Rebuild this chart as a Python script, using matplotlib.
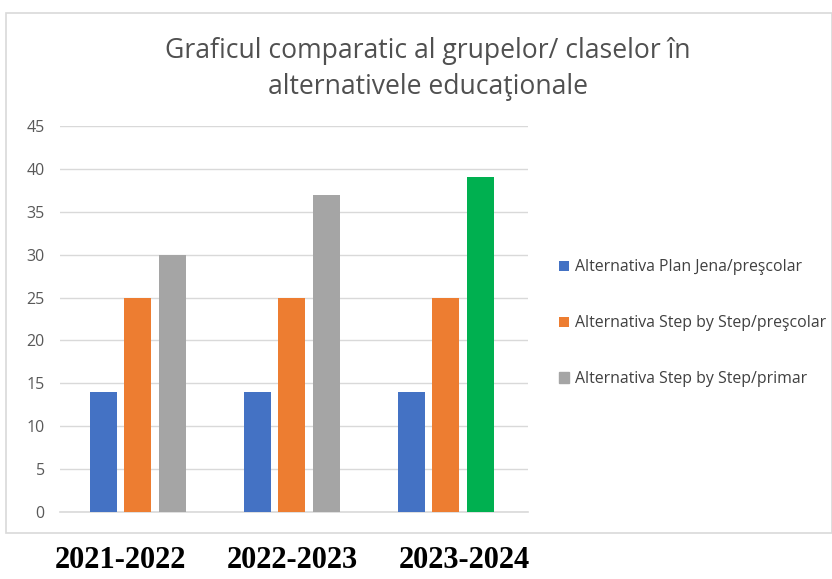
import matplotlib.pyplot as plt
import matplotlib
import numpy as np
from matplotlib.patches import Rectangle

matplotlib.rcParams.update({'font.family': ['Open Sans', 'DejaVu Sans'], 'font.size': 10})

years = ['2021-2022', '2022-2023', '2023-2024']
series_names = ['Alternativa Plan Jena/preşcolar',
                'Alternativa Step by Step/preşcolar',
                'Alternativa Step by Step/primar']
plan_jena = [14, 14, 14]
sbs_prescolar = [25, 25, 25]
sbs_primar = [30, 37, 39]
colors = ['#4472C4', '#ED7D31', '#A5A5A5']
primar_colors = ['#A5A5A5', '#A5A5A5', '#00B050']  # last bar highlighted green

W, H = 832, 579
fig = plt.figure(figsize=(W / 100, H / 100), dpi=100)
renderer = fig.canvas.get_renderer()


def fit_size(text, target_px, **kw):
    # font size that makes `text` about target_px wide
    t = fig.text(0, 0, text, fontsize=10, **kw)
    w = t.get_window_extent(renderer).width
    h = t.get_window_extent(renderer).height
    t.remove()
    return 10 * target_px / w, h * target_px / w


def fy(py):
    return 1 - py / H


# chart frame
fig.patches.append(Rectangle((6 / W, fy(533)), 1 - 6 / W, (533 - 13) / H,
                             transform=fig.transFigure, facecolor='none',
                             edgecolor='#d9d9d9', linewidth=1.2))

ax = fig.add_axes([60 / W, fy(512), 468 / W, (512 - 126) / H])
x = np.arange(len(years))
pitch = 0.224
width = 0.175
ax.bar(x - pitch, plan_jena, width, color=colors[0], label=series_names[0], zorder=3)
ax.bar(x, sbs_prescolar, width, color=colors[1], label=series_names[1], zorder=3)
ax.bar(x + pitch, sbs_primar, width, color=primar_colors, label=series_names[2], zorder=3)

ax.set_xlim(-0.506, -0.506 + 468 / 154)
ax.set_ylim(0, 45)
ax.set_yticks(range(0, 46, 5))
ax.set_xticks([])
ax.grid(axis='y', color='#d9d9d9', linewidth=1, zorder=0)
for s in ['top', 'right', 'left']:
    ax.spines[s].set_visible(False)
ax.spines['bottom'].set_color('#d9d9d9')
ax.spines['bottom'].set_linewidth(1.2)
ax.tick_params(axis='y', length=0, labelcolor='#595959', labelsize=11.5, pad=11)

# title, two lines, sized to the reference width
line1 = 'Graficul comparatic al grupelor/ claselor în'
line2 = 'alternativele educaţionale'
tsize, _ = fit_size(line1, 525)
fig.text(428 / W, fy(58), line1, ha='center', va='baseline', fontsize=tsize, color='#505050')
fig.text(428 / W, fy(94), line2, ha='center', va='baseline', fontsize=tsize, color='#505050')

# legend
lsize, lh = fit_size(series_names[1], 251)
fs_px = lsize * 100 / 72
leg = ax.legend(loc='upper left', bbox_to_anchor=(559 / W, fy(268 - lh / 2)),
                bbox_transform=fig.transFigure, frameon=False, fontsize=lsize,
                labelspacing=(57 - lh) / fs_px, handlelength=10 / fs_px,
                handleheight=10 / fs_px, handletextpad=6 / fs_px,
                borderpad=0, borderaxespad=0)
for t in leg.get_texts():
    t.set_color('#404040')
leg.legend_handles[2].set_color(colors[2])

label_x = [120, 292, 464]
for lx, yr in zip(label_x, years):
    fig.text(lx / W, fy(561), yr, ha='center', va='center',
             fontsize=22, fontweight='bold', family='Liberation Serif')

fig.savefig('out.png', dpi=100)
